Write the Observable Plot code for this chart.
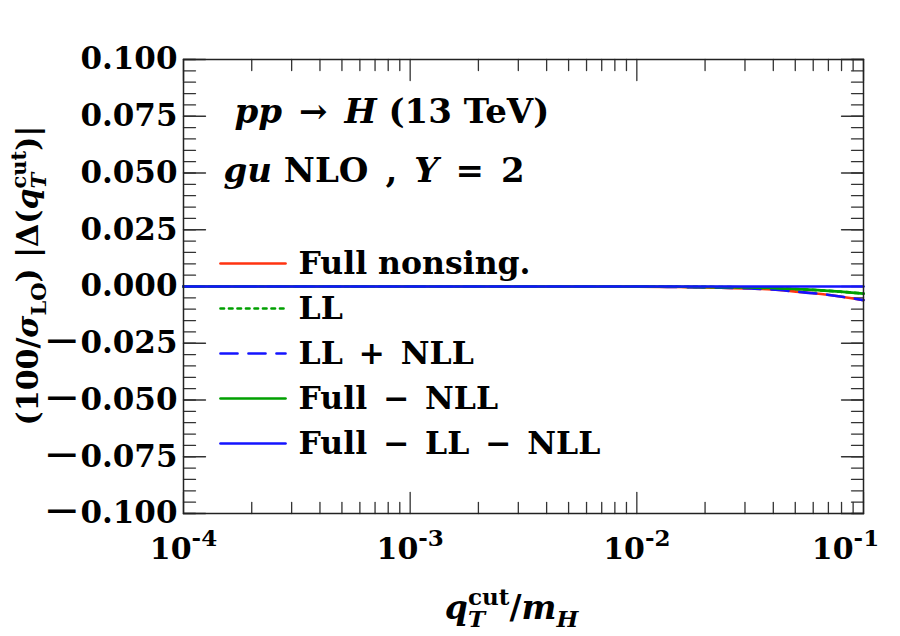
<!DOCTYPE html>
<html><head><meta charset="utf-8">
<script src="https://cdn.jsdelivr.net/npm/d3@7"></script>
<script src="https://cdn.jsdelivr.net/npm/@observablehq/plot@0.6"></script>
<style>body{margin:0;background:#fff;}</style>
</head><body><div id="chart"></div>
<script>
// ---- data ----
const qT = [1e-4, 3e-4, 1e-3, 3e-3, 0.01, 0.0155, 0.0235, 0.032, 0.0426, 0.052, 0.065, 0.079, 0.1];
const fullNonsing    = [0, 0, 0, 0, -0.00005, -0.00022, -0.00053, -0.00088, -0.0015, -0.0024, -0.0033, -0.0044, -0.0060];
const llOnly         = [0, 0, 0, 0, -0.00003, -0.0001, -0.00025, -0.00045, -0.0008, -0.0012, -0.0017, -0.0023, -0.0031];
const llPlusNll      = [0, 0, 0, 0, -0.00005, -0.00022, -0.00053, -0.00088, -0.0015, -0.0024, -0.0033, -0.0044, -0.0060];
const fullMinusNll   = [0, 0, 0, 0, -0.00003, -0.0001, -0.00025, -0.00045, -0.0008, -0.0012, -0.0017, -0.0023, -0.0031];
const fullMinusLlNll = [0, 0, 0, 0, 0, 0, 0, 0, 0, 0, 0, 0, 0];

const seriesNames  = ["Full nonsing.", "LL", "LL\u2002+\u2002NLL", "Full\u2002\u2212\u2002NLL", "Full\u2002\u2212\u2002LL\u2002\u2212\u2002NLL"];
const seriesValues = [fullNonsing, llOnly, llPlusNll, fullMinusNll, fullMinusLlNll];
const seriesColors = ["#ff3311", "#00a000", "#1414ff", "#00a000", "#1414ff"];
const seriesDash   = [null, "3.5,5", "17,11", null, null];

const yMajor = [-0.1, -0.075, -0.05, -0.025, 0, 0.025, 0.05, 0.075, 0.1];
const yMinor = d3.range(-20, 21).map(i => i / 200);
const xMajor = [1e-4, 1e-3, 1e-2, 1e-1];
const xExp   = ["-4", "-3", "-2", "-1"];
const xMinor = [1e-4, 1e-3, 1e-2].flatMap(d => [2,3,4,5,6,7,8,9].map(k => k * d));

const rows = seriesNames.map((name, s) => qT.map((x, i) => ({x, y: seriesValues[s][i], name})));

const tickShape = {draw(ctx, l) { ctx.moveTo(0, 0); ctx.lineTo(0, -l); }};
const tickStyle = {anchor: "start", shape: tickShape, stroke: "#333", strokeWidth: 1.3};
const yFmt = d => (d < 0 ? "\u2212" : "") + Math.abs(d).toFixed(3);

const marks = [];
marks.push(Plot.vector(yMinor, {y: d => d, frameAnchor: "left", length: 12, rotate: 90, ...tickStyle}));
marks.push(Plot.vector(yMajor, {y: d => d, frameAnchor: "left", length: 22, rotate: 90, ...tickStyle}));
marks.push(Plot.vector(yMinor, {y: d => d, frameAnchor: "right", length: 12, rotate: -90, ...tickStyle}));
marks.push(Plot.vector(yMajor, {y: d => d, frameAnchor: "right", length: 22, rotate: -90, ...tickStyle}));
marks.push(Plot.vector(xMinor, {x: d => d, frameAnchor: "bottom", length: 11, rotate: 0, ...tickStyle}));
marks.push(Plot.vector(xMajor, {x: d => d, frameAnchor: "bottom", length: 21, rotate: 0, ...tickStyle}));
marks.push(Plot.vector(xMinor, {x: d => d, frameAnchor: "top", length: 11, rotate: 180, ...tickStyle}));
marks.push(Plot.vector(xMajor, {x: d => d, frameAnchor: "top", length: 21, rotate: 180, ...tickStyle}));

rows.forEach((r, s) => {
  marks.push(Plot.line(r, {x: "x", y: "y", stroke: seriesColors[s], strokeWidth: 2.7,
    strokeDasharray: seriesDash[s] ?? undefined, curve: "monotone-x"}));
});

marks.push(Plot.frame({stroke: "#222", strokeWidth: 1.5}));

marks.push(Plot.text(yMajor, {y: d => d, frameAnchor: "left", dx: -6, textAnchor: "end", text: yFmt, fontSize: 31}));
marks.push(Plot.text(xMajor.slice(0, 3), {x: d => d, frameAnchor: "bottom", dy: 45, dx: 0, textAnchor: "middle", lineAnchor: "bottom",
  text: (d, i) => "10^" + xExp[i], fontSize: 30}));
marks.push(Plot.text(xMajor.slice(3), {x: d => d, frameAnchor: "bottom", dy: 45, dx: -18, textAnchor: "middle", lineAnchor: "bottom",
  text: (d, i) => "10^" + xExp[3 + i], fontSize: 30}));

marks.push(Plot.text(["@title1"], {frameAnchor: "top-left", dx: 51, dy: 63, lineAnchor: "bottom", textAnchor: "start", text: d => d, fontSize: 34}));
marks.push(Plot.text(["@title2"], {frameAnchor: "top-left", dx: 40, dy: 122, lineAnchor: "bottom", textAnchor: "start", text: d => d, fontSize: 34}));

seriesNames.forEach((name, i) => {
  const dy = 204 + 45 * i;
  marks.push(Plot.vector([name], {frameAnchor: "top-left", dx: 37, dy, length: 65, rotate: 90, anchor: "start",
    shape: tickShape, stroke: seriesColors[i], strokeWidth: 2.7, strokeDasharray: seriesDash[i] ?? undefined}));
  marks.push(Plot.text([name], {frameAnchor: "top-left", dx: 115, dy, textAnchor: "start", lineAnchor: "middle", text: d => d, fontSize: 31.5}));
});

marks.push(Plot.text(["@ylab"], {frameAnchor: "left", dx: -155, dy: -11, rotate: -90, textAnchor: "middle", lineAnchor: "middle", text: d => d, fontSize: 30}));
marks.push(Plot.text(["@xlab"], {frameAnchor: "bottom", dx: -12, dy: 105, textAnchor: "middle", lineAnchor: "bottom", text: d => d, fontSize: 33}));

const svg = Plot.plot({
  width: 900, height: 636,
  marginLeft: 183, marginRight: 37, marginTop: 59, marginBottom: 123,
  x: {type: "log", domain: [1e-4, 1e-1], axis: null},
  y: {domain: [-0.1, 0.1], axis: null},
  style: {fontFamily: "'DejaVu Serif', serif", fontWeight: "bold", fontSize: "30px", color: "#000", background: "#fff"},
  marks
});
document.getElementById("chart").append(svg);

// ---- rich text (italics, sub/superscripts) ----
const ns = "http://www.w3.org/2000/svg";
function rich(el, segs, F) {
  el.textContent = "";
  let shift = 0, prev = null;
  for (const s of segs) {
    const ts = document.createElementNS(ns, "tspan");
    ts.textContent = s.t;
    if (s.i) ts.setAttribute("font-style", "italic");
    if (s.w) ts.setAttribute("font-weight", s.w);
    const target = s.off ?? (s.s === "sub" ? F * 0.27 : s.s === "sup" ? -F * 0.42 : 0);
    const size = s.size ?? (s.s ? F * 0.7 : null);
    if (size) ts.setAttribute("font-size", size);
    if (target - shift) ts.setAttribute("dy", target - shift);
    shift = target;
    el.appendChild(ts);
    if (s.stack && prev) ts.setAttribute("dx", -prev.getComputedTextLength());
    prev = ts;
  }
}
const spec = {
  "@title1": [[{t: "pp", i: 1}, {t: "\u2002\u2192\u2002"}, {t: "H", i: 1}, {t: " (13 TeV)"}], 34],
  "@title2": [[{t: "gu", i: 1}, {t: " NLO\u2002,\u2002"}, {t: "Y", i: 1}, {t: "\u2002=\u20022"}], 34],
  "@ylab": [[{t: "(100/"}, {t: "\u03c3", i: 1}, {t: "LO", s: "sub"}, {t: ") |\u0394("},
    {t: "q", i: 1}, {t: "T", i: 1, s: "sub"}, {t: "cut", s: "sup", stack: 1}, {t: ")|"}], 30],
  "@xlab": [[{t: "q", i: 1}, {t: "T", i: 1, s: "sub"}, {t: "cut", s: "sup", stack: 1}, {t: "/"},
    {t: "m", i: 1}, {t: "H", i: 1, s: "sub"}], 33]
};
svg.querySelectorAll("text").forEach(el => {
  const c = el.textContent;
  if (spec[c]) rich(el, spec[c][0], spec[c][1]);
  else if (/^10\^/.test(c)) { const [b, e] = c.split("^"); rich(el, [{t: b}, {t: e, s: "sup", size: 23, off: -13}], 30); }
  else if (/^\u2212\d/.test(c)) rich(el, [{t: "\u2212", size: 44, w: "normal", off: 2}, {t: c.slice(1), off: 0}], 31);
});
</script>
</body></html>
